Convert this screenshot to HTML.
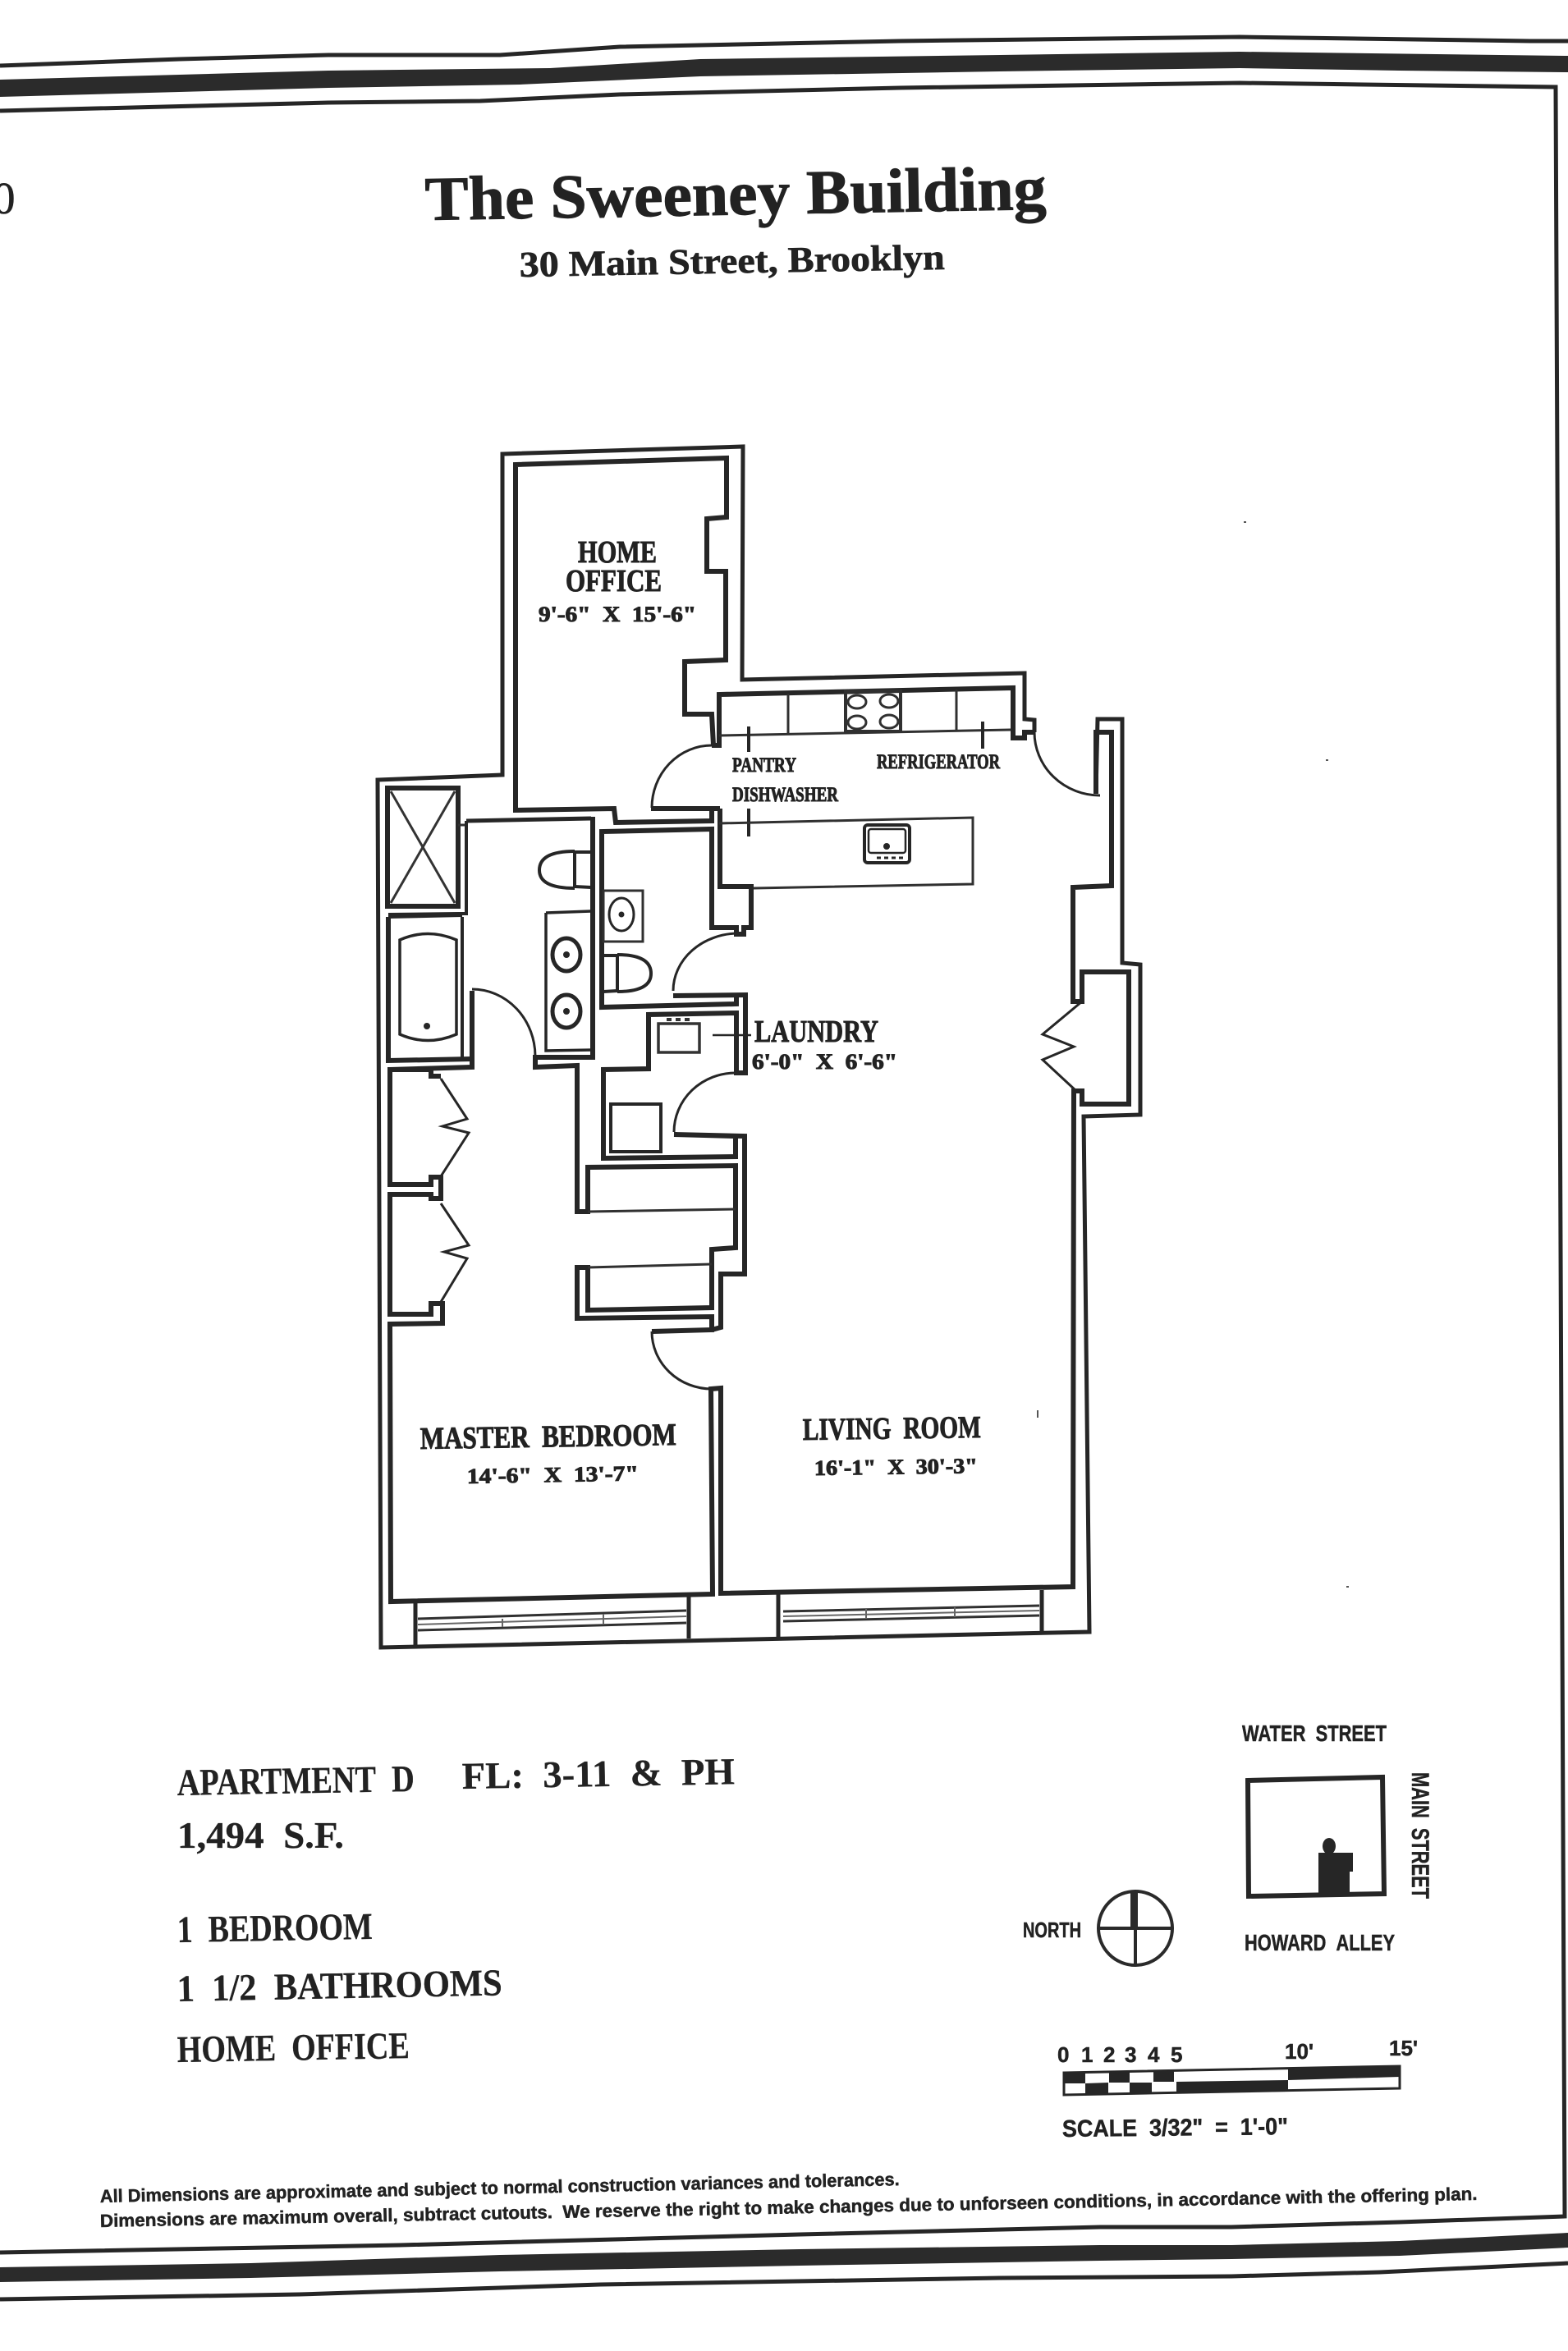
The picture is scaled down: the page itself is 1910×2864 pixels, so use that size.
<!DOCTYPE html>
<html><head><meta charset="utf-8"><style>
html,body{margin:0;padding:0;background:#fff}
svg{display:block}
.w{fill:none;stroke:#262626;stroke-width:6;stroke-linejoin:miter}
.o{fill:none;stroke:#262626;stroke-width:5}
.t{fill:none;stroke:#303030;stroke-width:3}
.d{fill:none;stroke:#262626;stroke-width:3}
text{fill:#222;font-family:"Liberation Serif",serif}
.l{font-weight:bold;stroke:#222;stroke-width:1;font-size:32px}
.s{font-family:"Liberation Sans",sans-serif;font-weight:bold;font-size:28px;stroke:#222;stroke-width:.5}
.n{font-size:46px;font-weight:bold;stroke:#222;stroke-width:.3}
</style></head><body>
<svg width="1910" height="2864" viewBox="0 0 1910 2864" xmlns="http://www.w3.org/2000/svg">
<rect width="1910" height="2864" fill="#fff"/>
<g fill="none" stroke="#262626" stroke-width="5">
<polyline points="0,80 219,72 400,67 609,67 755,57 1096,50 1510,45 1864,50 1910,50"/>
<polyline points="0,135 400,125 585,123 755,115 1096,107 1510,101 1895,106 1906,2700 1705,2707 1500,2713 1340,2713 974,2722 487,2735 0,2744"/>
<polyline points="0,2801 365,2795 731,2783 1218,2775 1500,2773 1681,2768 1910,2757"/>
</g>
<polygon fill="#2b2b2b" points="0,97 400,86 670,83 853,72 1218,67 1510,63 1910,68 1910,88 1705,86 1510,83 1218,87 853,93 633,103 400,107 0,118"/>
<polygon fill="#2b2b2b" points="0,2762 305,2757 609,2747 974,2740 1340,2735 1500,2735 1705,2730 1910,2720 1910,2738 1705,2748 1500,2752 1340,2754 974,2760 609,2767 305,2775 0,2780"/>

<text x="518" y="268" transform="rotate(-1 518 268)" font-size="76" font-weight="bold" stroke="#222" stroke-width="1" textLength="757" lengthAdjust="spacingAndGlyphs">The Sweeney Building</text>
<text x="633" y="337" transform="rotate(-1 633 337)" font-size="44" font-weight="bold" stroke="#222" stroke-width=".7" textLength="518" lengthAdjust="spacingAndGlyphs">30 Main Street, Brooklyn</text>
<text x="-9" y="260" font-size="55" stroke="#222" stroke-width=".6">0</text>

<!-- outer shell -->
<polyline class="o" points="1260,892 1260,877 1248,876 1248,820 904,828 905,544 612,553 612,944 460,950 464,2007 1327,1988 1320,1360 1389,1358 1389,1175 1367,1173 1367,876 1337,876 1335,967"/>
<polyline class="w" points="1335,967 1335,892 1354,892 1354,1079 1307,1081 1307,1220 1318,1220 1318,1184 1375,1184 1375,1345 1318,1345 1318,1329 1308,1329 1307,1933 878,1941 878,1691 866,1692 868,1942 476,1951 475,1613 539,1612 539,1588 525,1588 525,1601 475,1601 475,1455 525,1455 525,1460 537,1460 537,1434 525,1434 525,1443 475,1443 475,1303 525,1303 525,1311 537,1311"/>
<!-- home office -->
<polyline class="w" points="869,908 867,870 834,870 834,806 884,804 884,696 861,696 861,632 885,630 885,558 628,566 628,987 748,985 750,1002 867,1000 867,987"/>
<polyline class="w" points="793,985 877,985"/>
<!-- kitchen -->
<polyline class="w" points="867,908 876,908 876,846 1234,838 1234,899 1248,899 1248,892 1260,892"/>
<polyline class="w" points="877,985 877,1080 915,1080 915,1130 906,1130 906,1138 897,1138 897,1130 867,1130 867,1010 733,1013 733,1227 897,1223 897,1212"/>
<polyline class="t" points="876,896 1231,889"/>
<polyline class="t" points="960,845 960,894"/>
<polyline class="t" points="1165,840 1165,890"/>
<rect class="t" x="1030" y="842" width="67" height="49" style="stroke-width:4"/>
<g class="t"><ellipse cx="1044" cy="855" rx="11" ry="8"/><ellipse cx="1083" cy="854" rx="11" ry="8"/><ellipse cx="1044" cy="880" rx="11" ry="8"/><ellipse cx="1083" cy="879" rx="11" ry="8"/></g>
<g stroke="#262626" stroke-width="4"><line x1="912" y1="885" x2="912" y2="916"/><line x1="1197" y1="879" x2="1197" y2="912"/><line x1="912" y1="985" x2="912" y2="1019"/></g>
<polyline class="t" points="876,1003 1185,996 1185,1077 918,1082"/>
<rect x="1053" y="1005" width="55" height="46" rx="4" fill="none" stroke="#262626" stroke-width="4"/>
<rect x="1058" y="1010" width="45" height="29" rx="3" fill="none" stroke="#262626" stroke-width="2.5"/>
<circle cx="1080" cy="1031" r="4" fill="#262626"/>
<line x1="1068" y1="1045" x2="1100" y2="1045" stroke="#262626" stroke-width="3" stroke-dasharray="5 4"/>
<!-- doors -->
<path class="d" d="M867,908 A73,76 0 0 0 794,984"/>
<path class="d" d="M1260,892 A80,77 0 0 0 1340,969"/>
<path class="d" d="M900,1137 A80,70 0 0 0 820,1207"/>
<path class="d" d="M575,1205 A77,82 0 0 1 652,1287"/>
<path class="d" d="M896,1307 A75,72 0 0 0 821,1379"/>
<path class="d" d="M794,1622 A73,70 0 0 0 867,1692"/>
<!-- bifolds -->
<polyline class="d" points="1318,1220 1270,1260 1308,1275 1270,1291 1311,1329"/>
<polyline class="d" points="537,1314 569,1363 539,1372 571,1380 537,1433"/>
<polyline class="d" points="537,1466 571,1517 541,1525 569,1533 537,1586"/>
<!-- bath -->
<rect x="472" y="960" width="86" height="144" fill="none" stroke="#262626" stroke-width="6"/>
<line x1="476" y1="964" x2="554" y2="1100" stroke="#333" stroke-width="3"/>
<line x1="554" y1="964" x2="476" y2="1100" stroke="#333" stroke-width="3"/>
<polyline class="t" points="558,1005 568,1005"/>
<polyline class="o" points="568,1000 720,997"/>
<polyline class="o" style="stroke-width:4" points="568,1000 568,1113 558,1113 473,1114"/>
<polyline class="w" points="722,995 722,1288 652,1288 652,1300 703,1298 703,1476 716,1476 716,1422 896,1420 896,1520 867,1522 867,1593 716,1596 716,1544 703,1544 703,1606 867,1604 867,1620 794,1622"/>
<polyline class="w" points="473,1117 473,1292 575,1290"/>
<line x1="473" y1="1117" x2="563" y2="1115" stroke="#262626" stroke-width="4"/>
<line x1="563" y1="1117" x2="563" y2="1290" stroke="#262626" stroke-width="4"/>
<path d="M487,1260 L487,1145 Q521,1130 556,1145 L556,1260 Q521,1275 487,1260Z" fill="none" stroke="#262626" stroke-width="3.5"/>
<circle cx="520" cy="1250" r="4" fill="#262626"/>
<polyline class="w" points="575,1207 575,1300 475,1303"/>
<polyline class="o" style="stroke-width:3.5" points="665,1112 720,1110"/>
<polyline class="o" style="stroke-width:3.5" points="665,1112 665,1280 722,1279"/>
<ellipse cx="690" cy="1163" rx="17" ry="20" fill="none" stroke="#262626" stroke-width="5"/><circle cx="690" cy="1163" r="4" fill="#262626"/>
<ellipse cx="690" cy="1232" rx="17" ry="20" fill="none" stroke="#262626" stroke-width="5"/><circle cx="690" cy="1232" r="4" fill="#262626"/>
<polyline class="w" style="stroke-width:4" points="720,1038 700,1038 700,1080 720,1081"/>
<path d="M700,1037 Q657,1037 657,1060 Q657,1082 700,1082" fill="none" stroke="#262626" stroke-width="4"/>
<rect class="t" x="735" y="1085" width="48" height="62"/>
<ellipse cx="757" cy="1114" rx="15" ry="20" fill="none" stroke="#262626" stroke-width="3"/><circle cx="757" cy="1114" r="3.5" fill="#262626"/>
<polyline class="w" style="stroke-width:4" points="735,1164 752,1164 752,1207 735,1208"/>
<path d="M752,1163 Q793,1163 793,1186 Q793,1208 752,1208" fill="none" stroke="#262626" stroke-width="4"/>
<!-- laundry -->
<polyline class="w" points="820,1213 908,1212 908,1307 897,1307 897,1234 790,1236 790,1302 735,1303 735,1411 896,1409 896,1384 821,1382 907,1384 907,1552 878,1552 878,1617 867,1620"/>
<rect x="802" y="1247" width="50" height="35" fill="none" stroke="#333" stroke-width="3.5"/>
<line x1="812" y1="1242" x2="842" y2="1242" stroke="#333" stroke-width="4" stroke-dasharray="6 5"/>
<line x1="868" y1="1261" x2="915" y2="1261" stroke="#262626" stroke-width="2.5"/>
<rect x="744" y="1345" width="61" height="58" fill="none" stroke="#262626" stroke-width="4"/>
<polyline class="t" points="716,1476 896,1473"/>
<polyline class="t" points="716,1544 867,1540"/>
<!-- windows -->
<g stroke="#262626" stroke-width="5"><line x1="506" y1="1949" x2="506" y2="2005"/><line x1="839" y1="1944" x2="839" y2="1996"/><line x1="948" y1="1941" x2="948" y2="1995"/><line x1="1269" y1="1937" x2="1269" y2="1989"/></g>
<g class="t">
<polyline points="509,1972 836,1962"/><polyline points="509,1986 836,1977"/><polyline points="954,1963 1266,1956"/><polyline points="954,1975 1266,1968"/>
</g>
<g stroke="#666" stroke-width="2" fill="none"><polyline points="509,1979 836,1969"/><polyline points="954,1969 1266,1962"/><line x1="612" y1="1972" x2="612" y2="1982"/><line x1="735" y1="1966" x2="735" y2="1978"/><line x1="1055" y1="1960" x2="1055" y2="1972"/><line x1="1163" y1="1958" x2="1163" y2="1970"/></g>

<!-- labels -->
<text class="l" x="704" y="685" style="font-size:38px" textLength="96" lengthAdjust="spacingAndGlyphs">HOME</text>
<text class="l" x="689" y="720" style="font-size:38px" textLength="117" lengthAdjust="spacingAndGlyphs">OFFICE</text>
<text class="l" x="656" y="757" style="font-size:26px" textLength="192" lengthAdjust="spacingAndGlyphs">9'-6"&#160;&#160;X&#160;&#160;15'-6"</text>
<text class="l" x="892" y="940" style="font-size:25px" textLength="78" lengthAdjust="spacingAndGlyphs">PANTRY</text>
<text class="l" x="892" y="976" style="font-size:25px" textLength="129" lengthAdjust="spacingAndGlyphs">DISHWASHER</text>
<text class="l" x="1068" y="936" style="font-size:25px" textLength="150" lengthAdjust="spacingAndGlyphs">REFRIGERATOR</text>
<text class="l" x="919" y="1269" style="font-size:38px" textLength="151" lengthAdjust="spacingAndGlyphs">LAUNDRY</text>
<text class="l" x="916" y="1302" style="font-size:26px" textLength="177" lengthAdjust="spacingAndGlyphs">6'-0"&#160;&#160;X&#160;&#160;6'-6"</text>
<text class="l" x="512" y="1765" transform="rotate(-.9 512 1765)" style="font-size:38px" textLength="312" lengthAdjust="spacingAndGlyphs">MASTER&#160;&#160;BEDROOM</text>
<text class="l" x="569" y="1807" transform="rotate(-1 569 1807)" style="font-size:26px" textLength="209" lengthAdjust="spacingAndGlyphs">14'-6"&#160;&#160;X&#160;&#160;13'-7"</text>
<text class="l" x="978" y="1754" transform="rotate(-.8 978 1754)" style="font-size:38px" textLength="217" lengthAdjust="spacingAndGlyphs">LIVING&#160;&#160;ROOM</text>
<text class="l" x="992" y="1797" transform="rotate(-.8 992 1797)" style="font-size:26px" textLength="199" lengthAdjust="spacingAndGlyphs">16'-1"&#160;&#160;X&#160;&#160;30'-3"</text>

<!-- info -->
<text class="n" x="216" y="2187" transform="rotate(-1 216 2187)" textLength="289" lengthAdjust="spacingAndGlyphs">APARTMENT&#160;&#160;D</text>
<text class="n" x="563" y="2179" transform="rotate(-1 563 2179)" textLength="332" lengthAdjust="spacingAndGlyphs">FL:&#160;&#160;3-11&#160;&#160;&amp;&#160;&#160;PH</text>
<text class="n" x="216" y="2251" textLength="203" lengthAdjust="spacingAndGlyphs">1,494&#160;&#160;S.F.</text>
<text class="n" x="216" y="2366" transform="rotate(-1 216 2366)" textLength="238" lengthAdjust="spacingAndGlyphs">1&#160;&#160;BEDROOM</text>
<text class="n" x="216" y="2438" transform="rotate(-1.1 216 2438)" textLength="396" lengthAdjust="spacingAndGlyphs">1&#160;&#160;1/2&#160;&#160;BATHROOMS</text>
<text class="n" x="216" y="2512" transform="rotate(-1 216 2512)" textLength="283" lengthAdjust="spacingAndGlyphs">HOME&#160;&#160;OFFICE</text>

<!-- site -->
<text class="s" x="1513" y="2121" textLength="176" lengthAdjust="spacingAndGlyphs">WATER&#160;&#160;STREET</text>
<polygon points="1520,2169 1684,2165 1686,2307 1521,2310" fill="none" stroke="#262626" stroke-width="6"/>
<polygon points="1606,2307 1606,2257 1648,2257 1648,2280 1644,2280 1644,2307" fill="#262626"/>
<ellipse cx="1619" cy="2249" rx="8" ry="10" fill="#262626"/>
<text class="s" x="1720" y="2159" transform="rotate(90 1720 2159)" style="font-size:30px" textLength="154" lengthAdjust="spacingAndGlyphs">MAIN&#160;&#160;STREET</text>
<text class="s" x="1516" y="2376" textLength="183" lengthAdjust="spacingAndGlyphs">HOWARD&#160;&#160;ALLEY</text>
<text class="s" x="1246" y="2360" style="font-size:26px" textLength="71" lengthAdjust="spacingAndGlyphs">NORTH</text>
<circle cx="1383" cy="2349" r="45" fill="none" stroke="#2a2a2a" stroke-width="4"/>
<line x1="1338" y1="2349" x2="1428" y2="2349" stroke="#2a2a2a" stroke-width="4"/>
<line x1="1383" y1="2349" x2="1383" y2="2394" stroke="#2a2a2a" stroke-width="4"/>
<rect x="1377" y="2305" width="9" height="44" fill="#2a2a2a"/>

<text class="s" x="1288" y="2512" style="font-size:26px">0</text>
<text class="s" x="1317" y="2512" style="font-size:26px">1</text>
<text class="s" x="1344" y="2512" style="font-size:26px">2</text>
<text class="s" x="1370" y="2512" style="font-size:26px">3</text>
<text class="s" x="1398" y="2512" style="font-size:26px">4</text>
<text class="s" x="1426" y="2512" style="font-size:26px">5</text>
<text class="s" x="1565" y="2508" style="font-size:26px">10'</text>
<text class="s" x="1692" y="2504" style="font-size:26px">15'</text>
<g fill="#262626">
<polygon points="1296,2525 1322,2524 1322,2538 1296,2538"/>
<polygon points="1351,2524 1376,2524 1376,2537 1351,2537"/>
<polygon points="1405,2523 1430,2523 1430,2536 1405,2536"/>
<polygon points="1322,2538 1350,2537 1350,2551 1322,2551"/>
<polygon points="1376,2537 1403,2537 1403,2550 1376,2550"/>
<polygon points="1433,2536 1569,2534 1569,2548 1433,2549"/>
<polygon points="1569,2521 1705,2517 1705,2530 1569,2534"/>
</g>
<polygon points="1296,2525 1705,2517 1705,2544 1296,2552" fill="none" stroke="#262626" stroke-width="3"/>
<text class="s" x="1294" y="2603" transform="rotate(-.6 1294 2603)" style="font-size:29px" textLength="275" lengthAdjust="spacingAndGlyphs">SCALE&#160;&#160;3/32"&#160;&#160;=&#160;&#160;1'-0"</text>

<!-- footer -->
<text class="s" x="122" y="2683" transform="rotate(-1.23 122 2683)" style="font-size:22px" textLength="974" lengthAdjust="spacingAndGlyphs">All Dimensions are approximate and subject to normal construction variances and tolerances.</text>
<text class="s" x="122" y="2713" transform="rotate(-1.13 122 2713)" style="font-size:22px" textLength="1678" lengthAdjust="spacingAndGlyphs">Dimensions are maximum overall, subtract cutouts.&#160;&#160;We reserve the right to make changes due to unforseen conditions, in accordance with the offering plan.</text>

<g fill="#555"><rect x="1263" y="1718" width="2" height="9"/><rect x="1515" y="635" width="3" height="2"/><rect x="1615" y="925" width="3" height="2"/><rect x="1640" y="1932" width="3" height="2"/></g>
</svg>
</body></html>
